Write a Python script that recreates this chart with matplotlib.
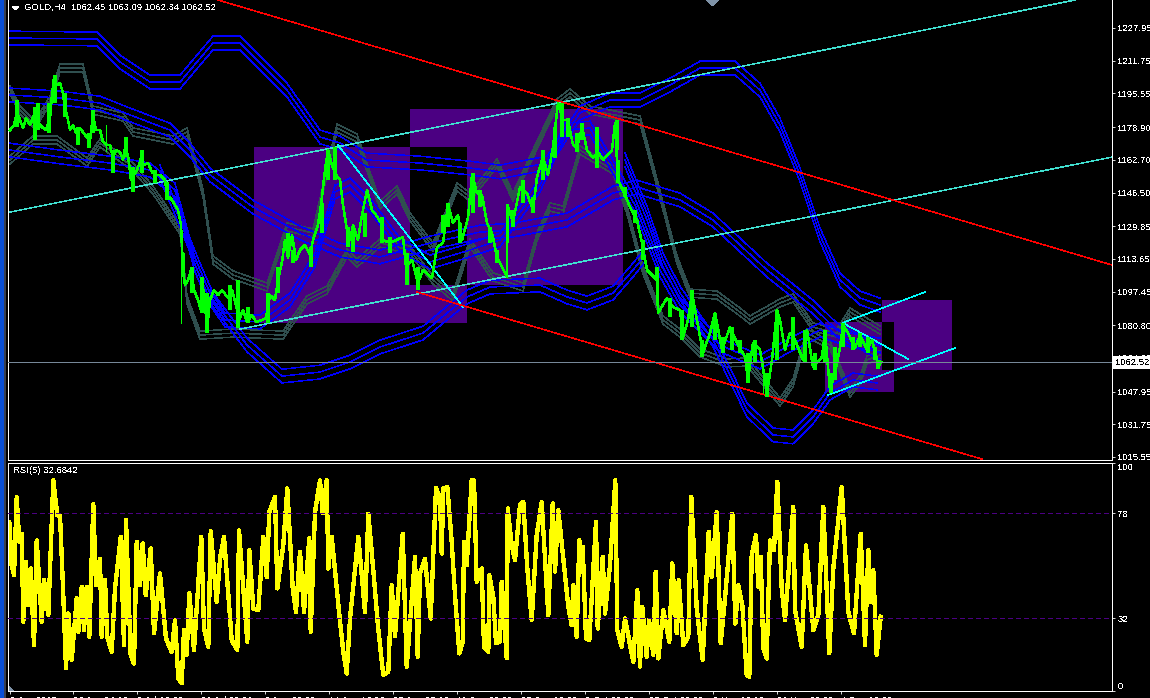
# MT4 style GOLD H4 chart with RSI sub window
import matplotlib
matplotlib.use('Agg')
import matplotlib.pyplot as plt
from matplotlib.patches import Rectangle, Polygon

plt.rcParams['font.family'] = ['Liberation Sans', 'DejaVu Sans']
plt.rcParams['font.size'] = 6.8
plt.rcParams['text.antialiased'] = False
plt.rcParams['lines.antialiased'] = False
plt.rcParams['patch.antialiased'] = False

# Price (bar position, price)
price_x = [10, 14, 17, 20, 23, 26, 30, 34, 38, 42, 46, 50, 52, 54, 57, 60, 63, 65, 67, 70, 73, 76, 80, 85, 90, 93, 96, 100, 103, 107,
           110, 113, 116, 120, 123, 125, 128, 131, 133, 136, 139, 141, 144, 148, 152, 156, 160, 165, 167, 172, 178, 181, 183, 185, 188, 191, 194, 198, 201, 204,
           207, 210, 214, 218, 222, 228, 232, 236, 239, 243, 247, 252, 256, 262, 266, 270, 275, 278, 282, 285, 288, 292, 296, 300, 305, 310, 313, 318, 321, 325,
           328, 332, 336, 340, 343, 347, 350, 353, 358, 362, 367, 372, 376, 381, 383, 390, 403, 406, 412, 418, 423, 432, 437, 443, 448, 453, 458, 462, 468, 472,
           477, 482, 487, 492, 497, 507, 507.5, 513, 520, 527, 533, 537, 543, 548, 553, 558, 563, 568, 573, 577, 582, 587, 593, 598, 603, 612, 615, 618, 625, 630,
           637, 642, 647, 657, 658, 667, 673, 680, 683, 688, 692, 700, 703, 710, 715, 722, 730, 737, 745, 748, 753, 760, 767, 772, 777, 780, 785, 790, 795, 803,
           807, 813, 822, 825, 830, 835, 840, 843, 848, 855, 860, 867, 872, 877, 878, 881]
price_y = [1177.4, 1179.9, 1186.4, 1182.4, 1178.4, 1183.4, 1179.9, 1184.9, 1181.4, 1178.9, 1177.4, 1183.4, 1194.8, 1203.2, 1199.7, 1200.7, 1195.8, 1187.3, 1184.9, 1177.4, 1179.9, 1176, 1178.4, 1175, 1172.5, 1184.9, 1177.4, 1177.4, 1171.5, 1170,
           1170, 1163.6, 1167.5, 1166.5, 1162.6, 1168.5, 1165, 1152.7, 1155.2, 1156.6, 1160.1, 1163.6, 1160.1, 1161.1, 1156.6, 1155.2, 1155.2, 1152.7, 1145.2, 1142.8, 1137.8, 1130.4, 1108.1, 1100.7, 1103.2, 1108.1, 1098.2, 1093.3, 1088.3, 1098.2,
           1078.4, 1093.3, 1098.2, 1095.7, 1098.2, 1094.3, 1098.2, 1090.8, 1083.4, 1088.3, 1082.4, 1085.9, 1082.4, 1083.4, 1084.4, 1095.7, 1093.3, 1103.2, 1112.1, 1123, 1114.1, 1125.5, 1113.1, 1118, 1120.5, 1115.5, 1123, 1130.4, 1140.3, 1157.6,
           1167.5, 1160.1, 1155.2, 1152.7, 1140.3, 1127.9, 1123, 1130.4, 1123, 1135.4, 1147.7, 1137.8, 1135.4, 1131.4, 1123, 1121.5, 1124.5, 1109.6, 1113.1, 1101.7, 1108.1, 1104.2, 1119.5, 1121.5, 1140.3, 1131.4, 1135.4, 1123, 1133.9, 1155.2,
           1146.2, 1145.2, 1131.4, 1126.4, 1114.6, 1104.7, 1140.3, 1131.9, 1149.2, 1146.2, 1137.8, 1154.2, 1164.1, 1155.2, 1169, 1190.8, 1182.4, 1182.4, 1170, 1168.5, 1178.9, 1167.5, 1163.6, 1166.5, 1162.6, 1167.5, 1180.9, 1152.7, 1145.2, 1139.3,
           1132.9, 1121.5, 1108.1, 1103.2, 1086.9, 1094.3, 1089.8, 1088.3, 1075, 1083.4, 1096.7, 1075, 1067.1, 1077, 1086.9, 1068.6, 1080, 1072.1, 1065.1, 1053.7, 1072.1, 1068.6, 1047.3, 1063.6, 1088.3, 1083.4, 1068.6, 1077, 1073.5, 1063.6,
           1078.4, 1060.1, 1065.1, 1077, 1048.8, 1057.2, 1070, 1080.9, 1077, 1069.5, 1076, 1068.6, 1073.5, 1063.6, 1059.6, 1062.6]

# Single long bars
spike_x = [181, 507, 658, 106, 763]
spike_low = [1081.9, 1104.7, 1086.9, 1167, 1047]
spike_high = [1130.4, 1140.3, 1103.2, 1180, 1063]

# Bar ranges along the price
wick_x = [17, 35, 38, 49, 55, 65, 78, 89, 93, 113, 126, 133, 142, 155, 167, 183, 192, 202, 207, 230, 238, 248, 268, 278, 288, 293, 311, 322, 328, 335,
          348, 353, 365, 382, 390, 407, 418, 443, 448, 460, 473, 480, 490, 497, 513, 523, 533, 543, 555, 562, 568, 577, 582, 597, 617, 618, 625, 635, 643, 657,
          670, 682, 692, 702, 715, 723, 732, 740, 748, 755, 767, 777, 793, 805, 815, 825, 831, 835, 843, 853, 860, 868, 875, 878]
wick_low = [1178.9, 1172.5, 1177.4, 1176, 1190.8, 1183.9, 1170, 1168.5, 1176, 1156.2, 1164.1, 1146.8, 1156.2, 1151.2, 1142.8, 1104.7, 1096.8, 1086.9, 1077, 1088.3, 1079.4, 1081.9, 1081.9, 1096.8, 1114.6, 1111.6, 1109.6, 1126.5, 1152.7, 1152.7,
            1119.5, 1117, 1124.5, 1121.5, 1116.6, 1100.7, 1098.2, 1126.5, 1129.4, 1121.5, 1136.4, 1139.3, 1121.5, 1111.6, 1129.4, 1141.3, 1136.4, 1152.7, 1163.6, 1174, 1174, 1166.6, 1172.5, 1158.6, 1167.5, 1151.2, 1144.3, 1131.4, 1113.1, 1103.2,
            1084.9, 1073.5, 1079.9, 1065.1, 1073.5, 1067.1, 1068.6, 1067.1, 1052.2, 1062.1, 1045.3, 1063.6, 1068.6, 1062.1, 1058.7, 1062.1, 1047.3, 1053.7, 1070, 1068.6, 1070, 1067.1, 1063.6, 1059.1]
wick_high = [1192.3, 1188.8, 1190.8, 1190.8, 1204.7, 1195.8, 1178.9, 1176, 1187.3, 1167.5, 1174, 1159.1, 1167.5, 1157.7, 1151.7, 1116.6, 1109.6, 1104.7, 1096.8, 1100.7, 1103.2, 1089.8, 1096.8, 1109.6, 1126.5, 1118, 1119.5, 1141.3, 1167.5, 1169,
             1129.4, 1128, 1136.4, 1134.4, 1124.5, 1116.6, 1109.6, 1135.4, 1141.3, 1131.4, 1156.2, 1147.7, 1129.4, 1118, 1137.8, 1152.7, 1144.3, 1167.5, 1178.9, 1190.8, 1183.4, 1176, 1180.9, 1178.9, 1182.4, 1162.6, 1149.2, 1137.8, 1123, 1109.6,
             1094.3, 1088.3, 1098.2, 1073.5, 1086.9, 1075, 1079.9, 1073.5, 1067.1, 1073.5, 1057.2, 1088.3, 1084.9, 1078.4, 1067.1, 1078.4, 1057.2, 1070, 1081.9, 1075, 1076.9, 1075, 1070, 1063.6]

# Blue envelope centres, each drawn as three lines
blue_a_x = [10, 97, 120, 150, 180, 213, 240, 287, 320, 340, 367, 420, 470, 500, 547, 580, 610, 640, 670, 700, 735, 760, 780, 800, 820, 840, 860, 880]
blue_a_y = [1223, 1222.5, 1211.1, 1201.2, 1201.2, 1220.5, 1220.5, 1197.2, 1174, 1171, 1162.6, 1161.1, 1158.6, 1156.7, 1161.1, 1185.9, 1192.3, 1192.3, 1199.7, 1208.1, 1208.1, 1197.2, 1179.9, 1155.2, 1125.5, 1103.2, 1094.3, 1090.8]
blue_b_x = [10, 60, 100, 130, 170, 190, 210, 253, 300, 340, 380, 430, 480, 513, 567, 613, 637, 680, 713, 767, 813, 837, 880]
blue_b_y = [1194.8, 1193.3, 1190.8, 1184.9, 1177.4, 1167.5, 1155.2, 1139.3, 1126.5, 1118, 1114.6, 1121.5, 1126.9, 1127.9, 1132.9, 1146.2, 1149.2, 1142.8, 1132.9, 1108.1, 1089.8, 1078.4, 1067.1]
blue_c_x = [10, 60, 110, 150, 175, 195, 208, 225, 260, 290, 315, 335, 350, 370, 400, 430, 470, 500, 540, 565, 590, 612, 635, 660, 680, 720, 760, 790, 820, 850, 880]
blue_c_y = [1167.5, 1164.1, 1161.1, 1157.6, 1147.7, 1110.6, 1095.7, 1083.4, 1082.4, 1093.3, 1113.1, 1146.7, 1150.2, 1140.3, 1120.5, 1112.1, 1118, 1123, 1150.2, 1177.4, 1178.4, 1160.1, 1140.3, 1108.1, 1090.8, 1071, 1062.6, 1071, 1078.4, 1073.5, 1071]
blue_d_x = [160, 180, 200, 213, 247, 282, 320, 350, 380, 423, 447, 467, 490, 540, 567, 587, 613, 633, 645]
blue_d_y = [1156.6, 1132.9, 1108.1, 1093.3, 1071, 1055.6, 1057.6, 1062.6, 1070, 1076.9, 1086.8, 1094.8, 1099.7, 1100.7, 1094.8, 1091.8, 1096.7, 1108.1, 1115.5]
blue_e_x = [625, 647, 663, 680, 713, 747, 773, 793, 813, 830, 853, 877]
blue_e_y = [1162.6, 1136.3, 1113.1, 1096.7, 1073.5, 1038.8, 1026.5, 1025.5, 1035.3, 1047.2, 1053.7, 1052.2]

# Grey envelope centres, each drawn as three lines
grey_a_x = [10, 20, 35, 50, 60, 83, 93, 123, 133, 173, 187, 203, 213, 233, 267, 287, 313, 337, 357, 380, 397, 410, 433, 457, 470, 497, 513, 530, 557, 570, 590, 640, 657, 677, 690, 717, 740, 750, 780, 793, 813, 837, 850, 880]
grey_a_y = [1197.2, 1187.3, 1179.9, 1192.3, 1208.1, 1208.1, 1187.3, 1183.9, 1176.5, 1172.5, 1176.5, 1146.2, 1113.1, 1105.7, 1099.7, 1129.4, 1126.5, 1178.4, 1173.5, 1140.3, 1147.7, 1134.4, 1119.5, 1149.2, 1144.3, 1161.1, 1144.3, 1162.6, 1190.8, 1195.8, 1187.3, 1182.4, 1151.2, 1113.1, 1096.7, 1095.7, 1087.3, 1083.4, 1091.8, 1094.3, 1079.9, 1076.9, 1087.3, 1078.4]
grey_b_x = [10, 33, 57, 87, 100, 133, 153, 180, 187, 200, 233, 283, 307, 327, 347, 357, 380, 410, 433, 453, 470, 493, 523, 537, 550, 563, 580, 613, 627, 643, 663, 680, 700, 727, 747, 780, 793, 807, 830, 850, 860, 867, 880]
grey_b_y = [1162.6, 1172.5, 1172.5, 1161.6, 1171, 1159.1, 1147.7, 1127.9, 1093.3, 1075.9, 1076.9, 1075.9, 1093.3, 1098.2, 1116.5, 1111.6, 1121.5, 1118, 1103.2, 1094.8, 1121.5, 1104.7, 1099.7, 1124.5, 1139.3, 1137.8, 1167.5, 1157.6, 1137.8, 1108.1, 1083.4, 1076.9, 1067.1, 1062.1, 1062.6, 1042.8, 1052.2, 1076.9, 1071, 1047.2, 1053.7, 1063.6, 1066.1]

# Half width of the envelopes in price
blue_half = 3.4
grey_half = 2.0

# Drawn objects: rectangles (bar from, bar to, price low, price high)
rects = [(254, 467, 1081.9, 1169), (410, 623, 1100.7, 1187.8), (825, 894, 1047.8, 1082.4), (882, 952, 1058.6, 1093.3)]
rect_overlaps = [(410, 467, 1100.7, 1169), (882, 894, 1058.6, 1082.4)]

# Trend lines (bar from, price from, bar to, price to)
red_lines = [(218, 1241.8, 1112, 1110.6), (417, 1097.2, 982, 1014.5)]
teal_lines = [(10, 1136.8, 1075, 1241.8), (240, 1078.9, 1112, 1164)]
cyan_lines = [(338, 1170, 463, 1089.8), (843, 1081.9, 908, 1064.1), (845, 1082.4, 925, 1097.2), (828, 1046.2, 955, 1069.5)]

last_price = 1062.52

price_ticks = [1227.95, 1211.75, 1195.55, 1178.90, 1162.70, 1146.50, 1129.85, 1113.65, 1097.45, 1080.80, 1064.60, 1047.95, 1031.75, 1015.55]

# RSI values
rsi_x = [9.3, 11.7, 14, 16.7, 19.3, 21.7, 23.3, 26, 28.3, 30.7, 34, 36.7, 41.7, 44, 48.3, 53.3, 57.3, 60, 63.3, 66, 68.3, 71.7, 76.7, 78.3, 81.7, 84, 86.7, 89.3, 93.3, 96,
         100, 101.7, 105, 107.3, 111.7, 115, 120.7, 124, 126, 130.7, 134, 136.7, 140, 142.7, 145.7, 150.7, 154, 160, 166, 171.7, 175, 178.3, 181.7, 184, 186.7, 189.3, 194, 201.3, 204, 208.3,
         210.7, 216.7, 220, 224, 231.7, 237.3, 239, 247.3, 249.3, 253.3, 258.3, 263.3, 266.7, 269.3, 275, 277.3, 283.3, 287.3, 292.7, 296, 300, 304, 309.3, 310.7, 315, 320, 322.7, 326.7, 328.3, 331.7,
         335, 340, 343.3, 346.7, 350, 358.3, 365, 368.3, 373.3, 378.3, 383.3, 388.3, 391.7, 395, 402.7, 406.7, 415, 417.7, 420, 425, 430.7, 436, 440, 441.7, 443.3, 447.3, 451.7, 455, 459.3, 462.7,
         464, 466.7, 471.7, 474, 476.7, 481.7, 484, 488.3, 489.3, 493.3, 496, 500, 501.7, 506.7, 507.7, 511.7, 515, 520, 523.3, 527.3, 531.7, 536.7, 541.7, 548.3, 552.7, 555, 558.3, 563.3, 568.3, 571.7,
         573.3, 576.7, 579.3, 581.7, 582.7, 586, 589.3, 596, 597.7, 602.7, 605, 610, 615.3, 617.3, 621.7, 625, 633.3, 637.3, 640, 642.3, 646.7, 649, 653.3, 655.7, 658.3, 663.3, 669.3, 672.3, 676.7, 678.7,
         683.3, 688.3, 691.3, 696.7, 702.7, 708.7, 711.7, 716.7, 720.7, 725, 732.3, 735.3, 738.3, 742.3, 746.7, 749.3, 751.7, 756, 758.3, 760.7, 763.3, 766.7, 770, 774, 777.3, 781.7, 785, 793.3, 795, 801.7,
         806, 813.3, 818.3, 823.3, 829.3, 833.3, 841.7, 848.3, 854, 860.7, 865, 868.3, 870.7, 873.3, 876.7, 880.7]
rsi_y = [74, 55, 50.8, 85, 65.4, 69, 30.4, 56.6, 37.7, 53.7, 20, 66, 30.4, 48.6, 33.3, 92.4, 77, 77, 42, 10, 34, 13.6, 40.6, 26, 45.7, 26.7, 45.7, 23.8, 82, 46.4,
         58, 23.8, 48.6, 23.8, 17.2, 45, 67.6, 20, 75, 15.8, 12, 65.4, 46.4, 64.7, 42, 62.5, 25.3, 51.5, 23, 17.2, 31, 5.5, 3.4, 26.7, 15.8, 42.8, 18, 67.6, 27.4, 19.4,
         70, 39, 58, 67.6, 22.3, 18, 70.5, 21.6, 61.8, 36.2, 35.5, 67.6, 50, 78.5, 85, 45, 64, 88.8, 45, 34.7, 61, 34.7, 67, 26, 78.5, 92.4, 78, 92.4, 53.7, 67.6,
         53, 30.4, 17.2, 7.7, 31.8, 67.6, 34.7, 77.8, 53, 27, 7, 8.5, 46.4, 24, 69, 10.7, 58.8, 15, 51.5, 58, 31.8, 89, 84.4, 60.3, 88.8, 89.5, 65.4, 42, 16.5, 21.6,
         65.4, 55.2, 92.4, 92.4, 47.9, 53.7, 19.4, 17.2, 50.8, 41.3, 20.9, 21.6, 47.9, 14.3, 80, 63.9, 57.4, 81.5, 82.9, 53.7, 31.1, 68.3, 82.9, 33.3, 82.2, 52.3, 79.3, 58.1, 36.9, 28.9,
         46.4, 23.8, 66.1, 53, 63.2, 23.1, 22.3, 74.2, 27.4, 58.8, 34, 55.2, 92.4, 26.7, 19.4, 31.8, 12.8, 44.2, 10.7, 36.9, 15, 31.1, 15.8, 52.3, 14.3, 35.5, 21.6, 55.9, 25.3, 48.6,
         20.1, 23.8, 85.1, 36.2, 13.6, 69.8, 50.1, 78.5, 20.9, 40.6, 77.8, 29.6, 46.4, 37.7, 7, 6.3, 59.6, 68.3, 45.7, 58.8, 18.7, 14.3, 66.1, 61.8, 91.7, 45, 31.1, 80.7, 35.5, 19.4,
         63.9, 26.7, 33.3, 80.7, 16.5, 53.7, 89.5, 34.7, 25.3, 69, 20.1, 61.8, 39.1, 53, 15.8, 32.6]
rsi_levels = [78, 32]
rsi_ticks = [100, 78, 32, 0]

time_ticks = [10, 73, 137, 201, 265, 329, 393, 457, 521, 585, 649, 713, 777, 841]
time_labels = ['8 Jun 2015', '22 Jun 04:00', '6 Jul 16:00', '20 Jul 08:00', '3 Aug 00:00', '14 Aug 16:00', '28 Aug 08:00',
               '11 Sep 00:00', '25 Sep 16:00', '9 Oct 08:00', '23 Oct 00:00', '6 Nov 16:00', '20 Nov 08:00', '4 Dec 16:00']

BLUE = '#0000ff'
GREY = '#2f4f4f'
TEAL = '#40e0d0'
CYAN = '#00ffff'
GREEN = '#00ff00'
INDIGO = '#4b0082'
THIN = 0.6
HAIR = 0.35
W, H = 1150, 698

fig = plt.figure(figsize=(W / 100, H / 100), dpi=100, facecolor='black')
ax = fig.add_axes([8 / W, (H - 460) / H, 1104 / W, 460 / H], facecolor='black')
ax_rsi = fig.add_axes([8 / W, (H - 691) / H, 1104 / W, 228 / H], facecolor='black')

# Rectangles, overlaps show black like the XOR drawing of the terminal
for x0, x1, low, high in rects:
    ax.add_patch(Rectangle((x0, low), x1 - x0, high - low, facecolor=INDIGO, edgecolor='none', zorder=1))
for x0, x1, low, high in rect_overlaps:
    ax.add_patch(Rectangle((x0, low), x1 - x0, high - low, facecolor='black', edgecolor='none', zorder=1.1))

# Envelopes
for bx, by in [(blue_a_x, blue_a_y), (blue_b_x, blue_b_y), (blue_c_x, blue_c_y), (blue_d_x, blue_d_y), (blue_e_x, blue_e_y)]:
    for off in (-blue_half, 0, blue_half):
        ax.plot(bx, [v + off for v in by], color=BLUE, lw=HAIR, zorder=3)
for gx, gy in [(grey_a_x, grey_a_y), (grey_b_x, grey_b_y)]:
    for off in (-grey_half, 0, grey_half):
        ax.plot(gx, [v + off for v in gy], color=GREY, lw=HAIR, zorder=2)

# Trend lines
for x0, p0, x1, p1 in teal_lines:
    ax.plot([x0, x1], [p0, p1], color=TEAL, lw=HAIR, zorder=4)
for x0, p0, x1, p1 in cyan_lines:
    ax.plot([x0, x1], [p0, p1], color=CYAN, lw=HAIR, zorder=4)
for x0, p0, x1, p1 in red_lines:
    ax.plot([x0, x1], [p0, p1], color='red', lw=HAIR, zorder=4)

# Price
ax.vlines(spike_x, spike_low, spike_high, color=GREEN, lw=THIN, zorder=5)
ax.vlines(wick_x, wick_low, wick_high, color=GREEN, lw=1.5, zorder=5)
ax.plot(price_x, price_y, color=GREEN, lw=1.1, zorder=5)
ax.axhline(last_price, color='#778899', lw=THIN, zorder=6)

ax.set_xlim(8, 1112)
ax.set_ylim(1014.06, 1241.81)
ax.set_xticks([])
ax.yaxis.tick_right()
ax.set_yticks(price_ticks)
ax.set_yticklabels(['%.2f' % p for p in price_ticks])
ax.tick_params(axis='y', colors='white', length=2.2, width=THIN, pad=1.8)

ax.text(1115, last_price, '%.2f' % last_price, color='black', va='center', ha='left',
        clip_on=False, zorder=10, bbox=dict(facecolor='white', edgecolor='none', pad=1.5))

fig.text(24 / W, 1 - 7.5 / H, 'GOLD,H4  1062.45 1063.09 1062.34 1062.52', color='white', va='center', ha='left')
fig.add_artist(Polygon([(12 / W, 1 - 6 / H), (19 / W, 1 - 6 / H), (15.5 / W, 1 - 10 / H)], closed=True,
                       transform=fig.transFigure, facecolor='white', edgecolor='none'))
fig.add_artist(Polygon([(706 / W, 1), (719 / W, 1), (712.5 / W, 1 - 6 / H)], closed=True,
                       transform=fig.transFigure, facecolor='#7f93a8', edgecolor='none'))

# RSI window
for lev in rsi_levels:
    ax_rsi.axhline(lev, color=INDIGO, lw=THIN, ls=(0, (5, 4)), zorder=3)
ax_rsi.plot(rsi_x, rsi_y, color='yellow', lw=2.4, zorder=2)
ax_rsi.set_xlim(8, 1112)
ax_rsi.set_ylim(0, 100)
ax_rsi.yaxis.tick_right()
ax_rsi.set_yticks(rsi_ticks)
ax_rsi.set_yticklabels([str(v) for v in rsi_ticks])
labels = ax_rsi.get_yticklabels()
labels[0].set_va('top')
labels[3].set_va('bottom')
ax_rsi.set_xticks(time_ticks)
ax_rsi.set_xticklabels(time_labels, ha='left')
ax_rsi.tick_params(axis='both', colors='white', length=2.2, width=THIN, pad=1.5)
ax_rsi.text(13, 96.5, 'RSI(5) 32.6842', color='white', va='center', ha='left')
fig.add_artist(Polygon([(9 / W, 1 - 686 / H), (9 / W, 1 - 691 / H), (14 / W, 1 - 691 / H)], closed=True,
                       transform=fig.transFigure, facecolor='#7f93a8', edgecolor='none'))

for a in (ax, ax_rsi):
    for s in a.spines.values():
        s.set_color('white')
        s.set_linewidth(THIN)
ax.spines['top'].set_visible(False)

# Window edge on the left
fig.add_artist(Rectangle((0, 0), 4 / W, 1, transform=fig.transFigure, facecolor='#0a4fd6', edgecolor='none'))
fig.add_artist(Rectangle((4 / W, 0), 2 / W, 1, transform=fig.transFigure, facecolor='#3a4050', edgecolor='none'))

fig.savefig('out.png', dpi=100, facecolor='black')
